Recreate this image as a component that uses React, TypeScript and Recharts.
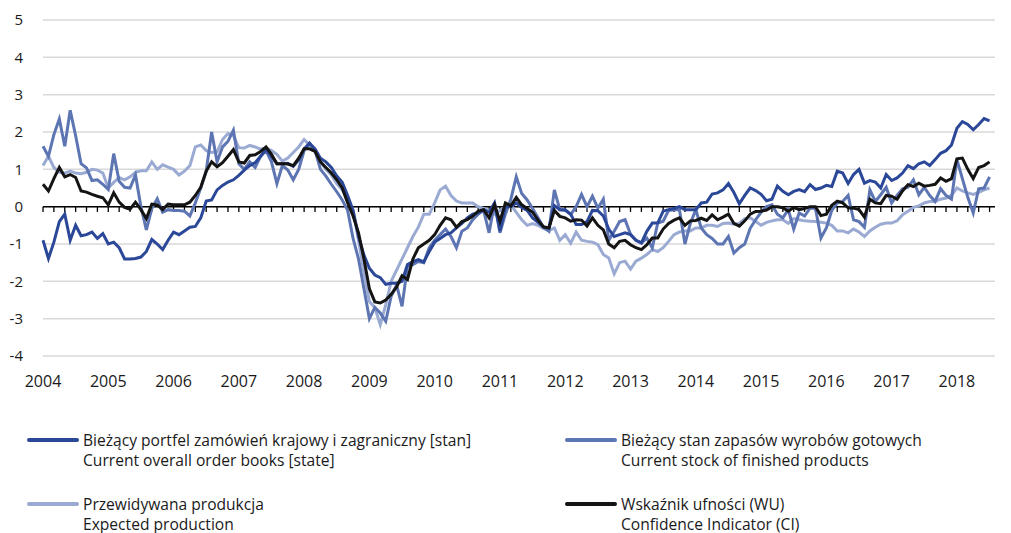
import { LineChart, Line, XAxis, YAxis, CartesianGrid, ReferenceLine } from "recharts";

const DARK = "#2b4797"; // portfel zamówień
const MID = "#5d75b2"; // zapasy
const LIGHT = "#9aaad3"; // przewidywana produkcja
const BLACK = "#141414"; // WU / CI
const FONT = "'Open Sans', 'Noto Sans', sans-serif";

const YEARS = ["2004", "2005", "2006", "2007", "2008", "2009", "2010", "2011", "2012", "2013", "2014", "2015", "2016", "2017", "2018"];
const Y_TICKS = [-4, -3, -2, -1, 0, 1, 2, 3, 4, 5];

// monthly, Jan 2004 .. Jul 2018
const ORDERS = [
  -0.9, -1.39, -0.95, -0.4, -0.2, -0.9, -0.5, -0.78, -0.75, -0.68, -0.85, -0.72,
  -1.0, -0.95, -1.1, -1.4, -1.4, -1.39, -1.35, -1.2, -0.88, -1.0, -1.15, -0.9,
  -0.68, -0.75, -0.65, -0.55, -0.53, -0.3, 0.15, 0.18, 0.45, 0.57, 0.66, 0.72,
  0.84, 0.98, 1.1, 1.18, 1.35, 1.53, 1.35, 1.15, 1.15, 1.16, 1.08, 1.25,
  1.55, 1.7, 1.55, 1.3, 1.2, 1.05, 0.82, 0.65, 0.3, -0.1, -0.8, -1.3,
  -1.65, -1.83, -1.9, -2.08, -2.05, -2.05, -2.0, -1.55, -1.47, -1.42, -1.48, -1.2,
  -0.95, -0.85, -0.75, -0.7, -0.57, -0.45, -0.3, -0.2, -0.17, -0.08, -0.15, 0.1,
  -0.65, 0, 0, 0.1, -0.02, -0.1, -0.3, -0.42, -0.55, -0.57, 0.03, -0.08,
  -0.08, -0.2, -0.48, -0.48, -0.4, -0.1, -0.11, -0.25, -0.6, -0.8, -0.75, -0.7,
  -0.75, -0.9, -0.97, -0.66, -0.44, -0.44, -0.12, -0.08, -0.05, 0.0, -0.08, -0.08,
  -0.08, 0.1, 0.12, 0.34, 0.37, 0.45, 0.62, 0.38, 0.08, 0.3, 0.5, 0.43,
  0.33, 0.16, 0.2, 0.55, 0.41, 0.32, 0.41, 0.46, 0.4, 0.59, 0.46, 0.5,
  0.57, 0.54, 0.95, 0.9, 0.62, 0.86, 1.0, 0.63, 0.7, 0.66, 0.5, 0.86,
  0.7, 0.77, 0.9, 1.1, 1.02, 1.15, 1.2, 1.1, 1.26, 1.43, 1.5, 1.65,
  2.1, 2.28, 2.2, 2.06, 2.2, 2.36, 2.3,
];

const STOCK = [
  1.62, 1.35, 1.93, 2.35, 1.62, 2.58, 1.9, 1.15, 1.04, 0.7, 0.72, 0.6,
  0.46, 1.42, 0.68, 0.52, 0.5, 0.85, 0.0, -0.62, -0.05, 0.21, -0.15, -0.08,
  -0.1, -0.1, -0.12, -0.25, 0.1, 0.5, 0.95, 2.0, 1.2, 1.6, 1.75, 2.05,
  1.15, 1.0, 1.2, 1.05, 1.35, 1.5, 1.2, 0.62, 1.1, 0.98, 0.72, 1.0,
  1.5, 1.7, 1.5, 1.0, 0.82, 0.6, 0.4, 0.18, -0.1, -0.85, -1.4, -2.2,
  -3.0, -2.7, -2.85, -3.07, -2.4, -2.1, -2.67, -1.6, -1.55, -1.47, -1.5, -1.1,
  -0.9, -0.75, -0.6, -0.8, -1.1, -0.66, -0.57, -0.35, -0.2, -0.1, -0.7, 0.1,
  -0.7, -0.2, 0.2, 0.8, 0.35, 0.18, -0.05, -0.3, -0.55, -0.66, 0.45, -0.08,
  -0.1, -0.21, 0, 0.33, 0, 0.28, -0.04, 0.2, -0.9, -0.66, -0.4, -0.35,
  -0.74, -0.9, -0.97, -0.84, -1.1, -0.44, -0.39, -0.1, -0.08, -0.08, -1.0, -0.45,
  -0.08, -0.57, -0.75, -0.85, -1.0, -1.0, -0.8, -1.24, -1.1, -1.0, -0.58, -0.35,
  -0.15, 0.0, 0.05, -0.2, -0.3, -0.08, -0.6, -0.17, -0.25, -0.04, -0.04, -0.84,
  -0.57, -0.1, 0.1, 0.14, 0.3, -0.35, -0.4, -0.55, 0.45, 0.14, 0.32, 0.52,
  0.1, 0.3, 0.48, 0.52, 0.72, 0.32, 0.52, 0.3, 0.14, 0.48, 0.3, 0.2,
  1.26, 0.75, 0.25, -0.17, 0.48, 0.5, 0.8,
];

const EXPECTED = [
  1.1, 1.35, 1.05, 0.92, 0.9, 0.95, 0.9, 0.88, 0.92, 1.0, 0.98, 0.9,
  0.5, 0.65, 0.78, 0.72, 0.8, 0.92, 0.96, 0.96, 1.2, 1.0, 1.12, 1.06,
  1.0, 0.85, 0.95, 1.1, 1.6, 1.65, 1.5, 1.45, 1.47, 1.8, 1.96, 1.9,
  1.58, 1.57, 1.64, 1.6, 1.54, 1.57, 1.5, 1.4, 1.22, 1.3, 1.45, 1.6,
  1.8, 1.65, 1.53, 1.2, 1.0, 0.85, 0.62, 0.45, 0.2, -0.1, -0.9, -1.75,
  -2.54, -2.7, -3.16, -2.63, -2.0, -1.7, -1.4, -1.1, -0.8, -0.55, -0.2, -0.2,
  0.1, 0.45, 0.55, 0.3, 0.15, 0.1, 0.1, 0.1, 0.0, -0.05, -0.1, -0.2,
  -0.1, 0.0, 0.05, -0.15, -0.35, -0.5, -0.45, -0.5, -0.58, -0.64, -0.57, -0.9,
  -0.75, -0.98, -0.68, -0.9, -0.93, -0.95, -1.02, -1.28, -1.375, -1.8, -1.5, -1.46,
  -1.67, -1.46, -1.38, -1.28, -1.15, -1.2, -1.1, -0.93, -0.75, -0.68, -0.65, -0.65,
  -0.57, -0.57, -0.5, -0.5, -0.53, -0.45, -0.44, -0.47, -0.45, -0.32, -0.3, -0.4,
  -0.5, -0.42, -0.38, -0.35, -0.35, -0.45, -0.32, -0.35, -0.38, -0.39, -0.4, -0.42,
  -0.44, -0.5, -0.65, -0.65, -0.7, -0.6, -0.68, -0.8, -0.65, -0.55, -0.47, -0.44,
  -0.44, -0.38, -0.22, -0.12, -0.02, 0.02, 0.1, 0.14, 0.14, 0.2, 0.23, 0.3,
  0.5, 0.42, 0.37, 0.33, 0.38, 0.45, 0.5,
];

const CI = [
  0.6, 0.42, 0.75, 1.05, 0.8, 0.86, 0.78, 0.42, 0.39, 0.33, 0.28, 0.24,
  0.05, 0.37, 0.12, -0.02, -0.07, 0.12, -0.08, -0.32, 0.07, 0.05, -0.08, 0.07,
  0.05, 0.05, 0.05, 0.12, 0.3, 0.52, 0.95, 1.2, 1.07, 1.18, 1.35, 1.53,
  1.2, 1.17, 1.37, 1.39, 1.48, 1.6, 1.4, 1.15, 1.15, 1.14, 1.1, 1.3,
  1.55, 1.55, 1.48, 1.2, 1.05, 0.9, 0.72, 0.5, 0.1, -0.25, -0.7, -1.4,
  -2.2, -2.55, -2.58, -2.5, -2.35, -2.15, -1.85, -1.95, -1.4, -1.1, -1.0, -0.9,
  -0.75, -0.5, -0.3, -0.35, -0.55, -0.4, -0.35, -0.25, -0.12, -0.08, -0.3, 0.05,
  -0.39, 0.1, 0.02, 0.25, 0.05, -0.05, -0.15, -0.36, -0.54, -0.57, -0.1, -0.26,
  -0.3, -0.39, -0.35, -0.36, -0.52, -0.3, -0.5, -0.62, -1.0, -1.1, -0.93, -0.9,
  -1.02, -1.1, -1.15, -1.02, -0.84, -0.84, -0.6, -0.45, -0.36, -0.3, -0.5, -0.38,
  -0.37, -0.31, -0.37, -0.22, -0.35, -0.28, -0.2, -0.45, -0.52, -0.38, -0.2, -0.13,
  -0.12, -0.09, 0.0, 0.0, -0.03, -0.12, -0.02, -0.08, -0.05, 0.0, 0.0, -0.24,
  -0.2, 0.04, 0.15, 0.1, -0.03, -0.04, -0.08, -0.28, 0.2, 0.1, 0.08, 0.3,
  0.28, 0.2, 0.42, 0.59, 0.54, 0.63, 0.55, 0.57, 0.6, 0.77, 0.68, 0.75,
  1.28, 1.3, 1.0, 0.75, 1.05, 1.1, 1.2,
];

const LEGEND = [
  { key: "orders", color: DARK, pl: "Bieżący portfel zamówień krajowy i zagraniczny [stan]", en: "Current overall order books [state]" },
  { key: "stock", color: MID, pl: "Bieżący stan zapasów wyrobów gotowych", en: "Current stock of finished products" },
  { key: "expected", color: LIGHT, pl: "Przewidywana produkcja", en: "Expected production" },
  { key: "ci", color: BLACK, pl: "Wskaźnik ufności (WU)", en: "Confidence Indicator (CI)" },
];

const data = ORDERS.map((v, i) => ({
  m: i,
  orders: v,
  stock: STOCK[i],
  expected: EXPECTED[i],
  ci: CI[i],
}));

// small tick marks on the zero axis, every second month
const minorTicks = data.filter((d) => d.m % 2 === 0).map((d) => d.m);

export default function App() {
  return (
    <div style={{ position: "absolute", left: 0, top: 0, width: 1011, height: 533, background: "#fff", fontFamily: FONT }}>
      <LineChart width={1011} height={400} data={data} margin={{ top: 20, right: 16, left: 0, bottom: 14 }}>
        <CartesianGrid vertical={false} stroke="#d9d9d9" strokeWidth={1.5} />
        <XAxis
          type="number"
          dataKey="m"
          domain={[0, 175]}
          ticks={YEARS.map((_, i) => i * 12)}
          tickFormatter={(v: number) => YEARS[v / 12]}
          axisLine={false}
          tickLine={false}
          tickMargin={14}
          height={30}
          interval={0}
          tick={{ fontSize: 16, fill: "#1a1a1a", fontFamily: FONT }}
        />
        <YAxis
          domain={[-4, 5]}
          ticks={Y_TICKS}
          width={43}
          axisLine={false}
          tickLine={false}
          tickMargin={14}
          interval={0}
          tick={{ fontSize: 15, fill: "#1a1a1a", fontFamily: FONT }}
        />
        <ReferenceLine y={0} stroke="#000" strokeWidth={1.5} />
        {minorTicks.map((m) => (
          <ReferenceLine key={m} segment={[{ x: m, y: 0 }, { x: m, y: -0.14 }]} stroke="#000" strokeWidth={1.3} />
        ))}
        <Line dataKey="expected" stroke={LIGHT} strokeWidth={3} dot={false} isAnimationActive={false} />
        <Line dataKey="stock" stroke={MID} strokeWidth={3} dot={false} isAnimationActive={false} />
        <Line dataKey="orders" stroke={DARK} strokeWidth={3} dot={false} isAnimationActive={false} />
        <Line dataKey="ci" stroke={BLACK} strokeWidth={3} dot={false} isAnimationActive={false} />
      </LineChart>
      {LEGEND.map((it, i) => (
        <div
          key={it.key}
          style={{
            position: "absolute",
            left: i % 2 ? 565 : 27,
            top: i < 2 ? 430 : 494,
            display: "flex",
            alignItems: "flex-start",
            fontSize: 15.6,
            lineHeight: "20px",
            color: "#1a1a1a",
          }}
        >
          <div style={{ width: 52, height: 4, marginTop: 8, borderRadius: 2, background: it.color }} />
          <div style={{ marginLeft: 4 }}>
            <div>{it.pl}</div>
            <div>{it.en}</div>
          </div>
        </div>
      ))}
    </div>
  );
}
